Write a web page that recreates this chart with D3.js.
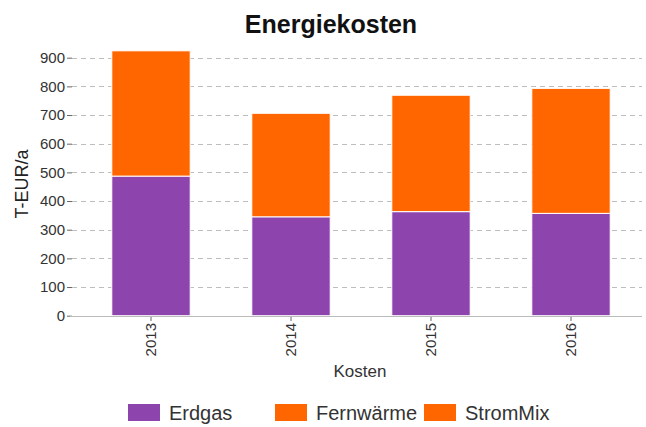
<!DOCTYPE html>
<html>
<head>
<meta charset="utf-8">
<script src="https://cdn.jsdelivr.net/npm/d3@7"></script>
<style>
  body { margin: 0; background: #fff; }
  svg text { font-family: "Liberation Sans", Arial, sans-serif; }
</style>
</head>
<body>
<svg id="chart" width="646" height="427"></svg>
<script>
// values (T-EUR/a)
const years = ["2013", "2014", "2015", "2016"];
const erdgas = [487, 345, 363, 357];
const fernwaerme = [437, 361, 406, 436];
const stromMix = [0, 0, 0, 0];
const seriesNames = ["Erdgas", "Fernwärme", "StromMix"];
const yTicks = [0, 100, 200, 300, 400, 500, 600, 700, 800, 900];

const colors = {
    Erdgas: "#8e44ad",
    "Fernwärme": "#ff6600",
    StromMix: "#ff6600"
};

const svg = d3.select("#chart");

const rows = years.map((yr, i) => ({
    year: yr,
    Erdgas: erdgas[i],
    "Fernwärme": fernwaerme[i],
    StromMix: stromMix[i]
}));

const x = d3.scaleBand()
    .domain(years)
    .range([81, 641])
    .paddingInner(0.44)
    .paddingOuter(0.22);

const y = d3.scaleLinear()
    .domain([0, 900])
    .range([315.7, 57.7]);

// grid lines
svg.append("g")
    .selectAll("line")
    .data(yTicks.filter(d => d > 0))
    .join("line")
    .attr("x1", 72)
    .attr("x2", 642)
    .attr("y1", d => Math.round(y(d)) + 0.5)
    .attr("y2", d => Math.round(y(d)) + 0.5)
    .attr("stroke", "#bdbdbd")
    .attr("stroke-dasharray", "5,4");

// stacked bars
const stacked = d3.stack().keys(seriesNames)(rows);

svg.append("g")
    .selectAll("g")
    .data(stacked)
    .join("g")
    .attr("fill", d => colors[d.key])
    .selectAll("rect")
    .data(d => d.filter(p => p[1] - p[0] > 0))
    .join("rect")
    .attr("x", d => x(d.data.year))
    .attr("y", d => y(d[1]))
    .attr("width", x.bandwidth())
    .attr("height", d => y(d[0]) - y(d[1]))
    .attr("stroke", "#fff")
    .attr("stroke-width", 1);

// y axis (ticks + labels only)
const yAxis = svg.append("g")
    .attr("transform", "translate(72,0)")
    .call(d3.axisLeft(y).tickValues(yTicks).tickSize(5).tickPadding(2))
    .call(g => g.select(".domain").remove());
yAxis.selectAll(".tick line").attr("stroke", "#666");
yAxis.selectAll(".tick text")
    .attr("fill", "#333")
    .attr("font-size", "15px")
    .style("font-family", "'Liberation Sans', Arial, sans-serif");

// x axis
const xAxis = svg.append("g")
    .attr("transform", "translate(0,316)")
    .call(d3.axisBottom(x).tickSize(5).tickSizeOuter(0).tickPadding(2))
    .call(g => g.select(".domain").remove());
xAxis.selectAll(".tick line").attr("stroke", "#666");
xAxis.selectAll(".tick text")
    .attr("fill", "#333")
    .attr("font-size", "15px")
    .style("font-family", "'Liberation Sans', Arial, sans-serif")
    .attr("text-anchor", "end")
    .attr("transform", "rotate(-90)")
    .attr("x", -7)
    .attr("y", 0)
    .attr("dy", "0.35em");

svg.append("line")
    .attr("x1", 70)
    .attr("x2", 642)
    .attr("y1", 316.5)
    .attr("y2", 316.5)
    .attr("stroke", "#bbb");

// title
svg.append("text")
    .attr("x", 331)
    .attr("y", 33)
    .attr("text-anchor", "middle")
    .attr("font-size", "25px")
    .attr("font-weight", "bold")
    .attr("fill", "#111")
    .text("Energiekosten");

// axis titles
svg.append("text")
    .attr("transform", "translate(28,184) rotate(-90)")
    .attr("text-anchor", "middle")
    .attr("font-size", "18px")
    .attr("fill", "#222")
    .text("T-EUR/a");

svg.append("text")
    .attr("x", 360)
    .attr("y", 377)
    .attr("text-anchor", "middle")
    .attr("font-size", "17px")
    .attr("fill", "#333")
    .text("Kosten");

// legend
const legendX = [128, 275, 424];
const legend = svg.append("g")
    .selectAll("g")
    .data(seriesNames)
    .join("g")
    .attr("transform", (d, i) => `translate(${legendX[i]},0)`);

legend.append("rect")
    .attr("x", 0)
    .attr("y", 404)
    .attr("width", 32)
    .attr("height", 17)
    .attr("fill", d => colors[d]);

legend.append("text")
    .attr("x", 41)
    .attr("y", 420)
    .attr("font-size", "20px")
    .attr("fill", "#333")
    .text(d => d);
</script>
</body>
</html>
